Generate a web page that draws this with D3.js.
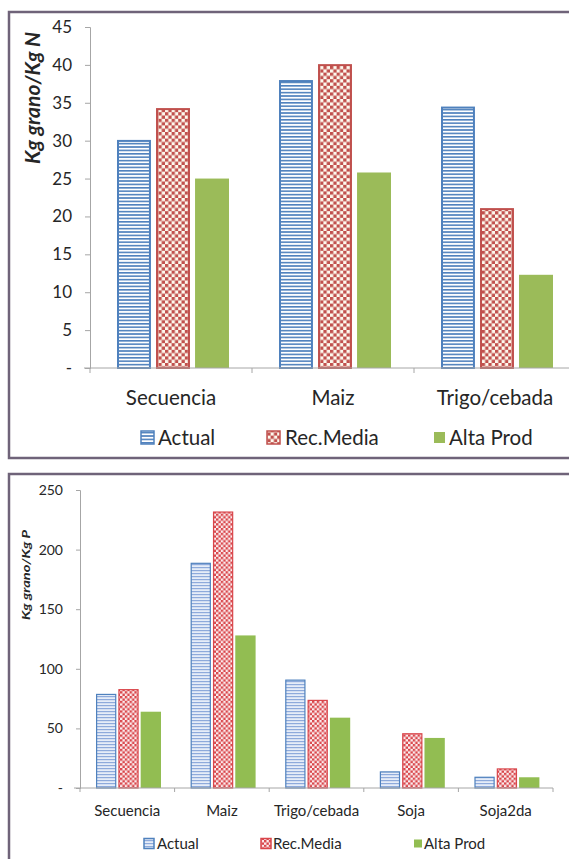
<!DOCTYPE html>
<html>
<head>
<meta charset="utf-8">
<script src="https://cdn.jsdelivr.net/npm/d3@7/dist/d3.min.js"></script>
<style>
  html, body { margin: 0; padding: 0; background: #ffffff; }
  svg { display: block; }
  text { font-family: Lato, "Open Sans", sans-serif; fill: #262626; }
</style>
</head>
<body>
<svg id="chart" width="569" height="859"></svg>
<script>
// ---------- DATA ----------
const seriesNames = ["Actual", "Rec.Media", "Alta Prod"];

const topCategories = ["Secuencia", "Maiz", "Trigo/cebada"];
const topActual    = [30.1, 38.0, 34.5];
const topRecMedia  = [34.3, 40.1, 21.1];
const topAltaProd  = [25.0, 25.8, 12.3];
const topTicks     = [0, 5, 10, 15, 20, 25, 30, 35, 40, 45];
const topYLabel    = "Kg grano/Kg N";

const bottomCategories = ["Secuencia", "Maiz", "Trigo/cebada", "Soja", "Soja2da"];
const bottomActual    = [79, 189, 91, 14, 9.5];
const bottomRecMedia  = [83, 232, 74, 46, 16.5];
const bottomAltaProd  = [64, 128, 59, 42, 9];
const bottomTicks     = [0, 50, 100, 150, 200, 250];
const bottomYLabel    = "Kg grano/Kg P";

// ---------- DRAW ----------
const svg = d3.select("#chart");
const defs = svg.append("defs");

function makePatterns(id, o) {
  const s = defs.append("pattern").attr("id", id + "-stripe")
    .attr("patternUnits", "userSpaceOnUse").attr("width", 8).attr("height", o.stripeP);
  s.append("rect").attr("width", 8).attr("height", o.stripeP).attr("fill", o.stripeBg);
  s.append("rect").attr("width", 8).attr("height", o.stripeW).attr("fill", o.blue);
  const c = defs.append("pattern").attr("id", id + "-check")
    .attr("patternUnits", "userSpaceOnUse").attr("width", o.chk * 2).attr("height", o.chk * 2);
  c.append("rect").attr("width", o.chk * 2).attr("height", o.chk * 2).attr("fill", o.chkBg);
  c.append("rect").attr("width", o.chk).attr("height", o.chk).attr("fill", o.red);
  c.append("rect").attr("x", o.chk).attr("y", o.chk).attr("width", o.chk).attr("height", o.chk).attr("fill", o.red);
}

function drawChart(cfg) {
  const g = svg.append("g");
  // frame
  g.append("rect").attr("x", cfg.frame[0]).attr("y", cfg.frame[1])
    .attr("width", cfg.frame[2]).attr("height", cfg.frame[3])
    .attr("fill", "none").attr("stroke", "#6f6379").attr("stroke-width", 2.5);

  const x = d3.scaleBand().domain(cfg.categories).range(cfg.xRange);
  const xi = d3.scaleBand().domain(seriesNames).range(cfg.innerRange).paddingInner(cfg.innerPad);
  const y = d3.scaleLinear().domain(cfg.yDomain).range(cfg.yRange);

  const fmt = v => v === 0 ? "-" : String(v);

  // y axis
  const ya = g.append("g").attr("transform", `translate(${cfg.xRange[0]},0)`)
    .call(d3.axisLeft(y).tickValues(cfg.ticks).tickFormat(fmt).tickSize(cfg.tickSize).tickPadding(cfg.tickPad));
  ya.select(".domain").attr("stroke", "#a6a6a6");
  ya.selectAll(".tick line").attr("stroke", "#a6a6a6");
  ya.selectAll("text").attr("font-size", cfg.yTickFont).attr("fill", "#333")
    .style("font-family", "Lato, sans-serif");

  // bars
  const series = [
    { name: "Actual", values: cfg.actual, fill: `url(#${cfg.id}-stripe)`, stroke: cfg.blue, sw: cfg.barStroke },
    { name: "Rec.Media", values: cfg.rec, fill: `url(#${cfg.id}-check)`, stroke: cfg.red, sw: cfg.barStroke },
    { name: "Alta Prod", values: cfg.alta, fill: cfg.green, stroke: "none", sw: 0 }
  ];
  series.forEach(s => {
    g.append("g").selectAll("rect").data(cfg.categories).join("rect")
      .attr("x", d => x(d) + xi(s.name) + s.sw / 2)
      .attr("y", (d, i) => y(s.values[i]) + s.sw / 2)
      .attr("width", xi.bandwidth() - s.sw)
      .attr("height", (d, i) => y(0) - y(s.values[i]) - s.sw / 2)
      .attr("fill", s.fill).attr("stroke", s.stroke).attr("stroke-width", s.sw);
  });

  // x axis
  const xa = g.append("g").attr("transform", `translate(0,${cfg.yRange[0]})`);
  xa.append("line").attr("x1", cfg.xRange[0] - 6).attr("x2", cfg.xRange[1])
    .attr("stroke", "#a6a6a6");
  const bounds = cfg.categories.map(c => x(c)).concat([cfg.xRange[1]]);
  xa.selectAll("line.tk").data(bounds).join("line").attr("class", "tk")
    .attr("x1", d => d).attr("x2", d => d).attr("y1", 0).attr("y2", cfg.tickSize)
    .attr("stroke", "#a6a6a6");
  xa.selectAll("text").data(cfg.categories).join("text")
    .attr("x", d => x(d) + x.bandwidth() / 2)
    .attr("y", cfg.catLabelY - cfg.yRange[0])
    .attr("text-anchor", "middle").attr("dominant-baseline", "central")
    .attr("font-size", cfg.catFont).text(d => d);

  // y label
  const yl = g.append("text")
    .attr("transform", `translate(${cfg.yLabelPos[0]},${cfg.yLabelPos[1]}) rotate(-90)`)
    .attr("text-anchor", "middle").attr("dominant-baseline", "central")
    .attr("font-size", cfg.yLabelFont).attr("font-weight", "bold").attr("font-style", "italic")
    .attr("fill", "#111").text(cfg.yLabel);
  if (cfg.yLabelLen) yl.attr("textLength", cfg.yLabelLen).attr("lengthAdjust", "spacingAndGlyphs");

  // legend
  const lg = g.append("g");
  series.forEach((s, i) => {
    const sx = cfg.legendSwatchX[i];
    const sz = i === 2 ? cfg.swatch - 2 : cfg.swatch;
    lg.append("rect").attr("x", sx + (cfg.swatch - sz) / 2)
      .attr("y", cfg.legendY - sz / 2 + 0.5)
      .attr("width", sz).attr("height", sz)
      .attr("fill", s.fill).attr("stroke", s.stroke).attr("stroke-width", s.sw ? 1.5 : 0);
    lg.append("text").attr("x", cfg.legendTextX[i]).attr("y", cfg.legendY)
      .attr("dominant-baseline", "central").attr("font-size", cfg.legendFont).text(s.name);
  });
}

makePatterns("top", { blue: "#4f81bd", stripeBg: "#ffffff", stripeP: 3.4, stripeW: 1.6,
  red: "#c0504d", chkBg: "#fdf9ee", chk: 3.3 });
makePatterns("bot", { blue: "#8eaadb", stripeBg: "#e6edf8", stripeP: 3, stripeW: 1.2,
  red: "#d9464b", chkBg: "#fbeef0", chk: 2.4 });

drawChart({
  id: "top", frame: [9, 12, 600, 446],
  categories: topCategories, actual: topActual, rec: topRecMedia, alta: topAltaProd,
  ticks: topTicks, yDomain: [0, 45], yRange: [368, 27],
  xRange: [90, 576], innerRange: [27, 139], innerPad: 0.13,
  tickSize: 5, tickPad: 13, yTickFont: 17, catFont: 20.5, catLabelY: 397,
  yLabel: topYLabel, yLabelPos: [31, 98], yLabelFont: 21,
  blue: "#4f81bd", red: "#c0504d", green: "#9bbb59", barStroke: 2,
  legendY: 437, legendSwatchX: [141, 267, 433], legendTextX: [158, 285, 449],
  legendFont: 20.5, swatch: 13
});

drawChart({
  id: "bot", frame: [9, 474, 600, 420],
  categories: bottomCategories, actual: bottomActual, rec: bottomRecMedia, alta: bottomAltaProd,
  ticks: bottomTicks, yDomain: [0, 250], yRange: [788, 490],
  xRange: [80, 553], innerRange: [16, 81], innerPad: 0.09,
  tickSize: 4, tickPad: 13, yTickFont: 14, catFont: 15, catLabelY: 810,
  yLabel: bottomYLabel, yLabelPos: [25, 575], yLabelFont: 11, yLabelLen: 90,
  blue: "#4f81bd", red: "#d9464b", green: "#92bd52", barStroke: 1.2,
  legendY: 843, legendSwatchX: [144, 261, 413], legendTextX: [157, 273, 424],
  legendFont: 15, swatch: 10
});
</script>
</body>
</html>
